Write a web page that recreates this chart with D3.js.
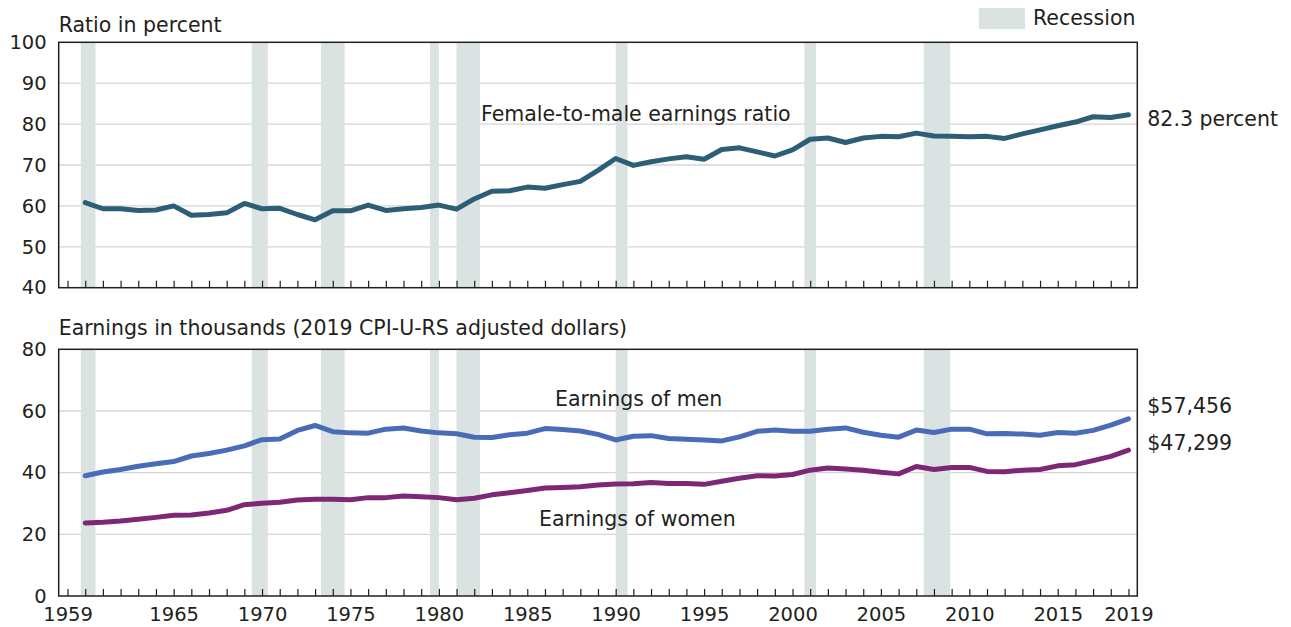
<!DOCTYPE html>
<html>
<head>
<meta charset="utf-8">
<script src="https://cdn.jsdelivr.net/npm/d3@7"></script>
<style>
	body { margin: 0; background: #fff; }
	svg { display: block; font-family: "DejaVu Sans", sans-serif; }
	text { fill: #231f20; }
</style>
</head>
<body>
<svg id="chart" width="1291" height="627"></svg>
<script>
// Data, 1960-2019
const years = d3.range(1960, 2020);

const ratio = [60.8, 59.3, 59.3, 58.9, 59.0, 60.0, 57.7, 57.9, 58.3, 60.6,
	59.3, 59.4, 57.9, 56.6, 58.8, 58.8, 60.2, 58.9, 59.3, 59.6,
	60.2, 59.2, 61.7, 63.6, 63.7, 64.6, 64.3, 65.2, 66.0, 68.7,
	71.6, 69.9, 70.8, 71.5, 72.0, 71.4, 73.8, 74.2, 73.2, 72.2,
	73.7, 76.3, 76.6, 75.5, 76.6, 77.0, 76.9, 77.8, 77.1, 77.0,
	76.9, 77.0, 76.5, 77.6, 78.6, 79.6, 80.5, 81.8, 81.6, 82.3];

const menEarnings = [39.0, 40.2, 41.0, 42.1, 42.9, 43.6, 45.4, 46.2, 47.3, 48.7,
	50.7, 50.9, 53.7, 55.3, 53.3, 52.9, 52.8, 54.1, 54.5, 53.5,
	52.9, 52.6, 51.5, 51.4, 52.3, 52.8, 54.3, 54.0, 53.5, 52.4,
	50.6, 51.8, 52.0, 51.1, 50.8, 50.6, 50.3, 51.6, 53.4, 53.8,
	53.4, 53.4, 54.1, 54.5, 53.1, 52.1, 51.5, 53.8, 53.0, 54.1,
	54.1, 52.6, 52.7, 52.5, 52.1, 53.0, 52.8, 53.7, 55.4, 57.456];

const womenEarnings = [23.7, 23.9, 24.3, 24.9, 25.5, 26.2, 26.3, 26.9, 27.8, 29.6,
	30.1, 30.4, 31.1, 31.4, 31.4, 31.2, 31.9, 31.9, 32.4, 32.2,
	31.9, 31.2, 31.7, 32.8, 33.5, 34.2, 35.0, 35.2, 35.4, 36.0,
	36.3, 36.4, 36.8, 36.5, 36.5, 36.2, 37.2, 38.2, 39.0, 38.9,
	39.4, 40.8, 41.5, 41.2, 40.8, 40.1, 39.6, 42.0, 41.0, 41.7,
	41.7, 40.4, 40.3, 40.8, 41.0, 42.2, 42.6, 43.9, 45.3, 47.299];

// Recession bands as drawn (start, end in fractional years)
const recessions = [[1959.75, 1960.58], [1969.42, 1970.33], [1973.33, 1974.67], [1979.5, 1980.0],
	[1981.0, 1982.33], [1990.0, 1990.67], [2000.67, 2001.33], [2007.42, 2008.92]];

const ratioTicks = [40, 50, 60, 70, 80, 90, 100];
const earningsTicks = [0, 20, 40, 60, 80];
const yearTicks = d3.range(1959, 2020);
const yearLabels = [1959, 1965, 1970, 1975, 1980, 1985, 1990, 1995, 2000, 2005, 2010, 2015, 2019];

const colors = {
	ratio: "#2c5e77",
	men: "#4a6bb8",
	women: "#7d2875",
	recession: "#dbe3e2",
	grid: "#d6d6d6",
	ink: "#231f20"
};

const svg = d3.select("#chart");

const x = d3.scaleLinear().domain([1958.5, 2019.5]).range([58.7, 1137.3]);
const yRatio = d3.scaleLinear().domain([40, 100]).range([287.7, 42.3]);
const yEarn = d3.scaleLinear().domain([0, 80]).range([596, 349.3]);

function drawPanel(y, ticks, showYears) {
	const g = svg.append("g");
	const [y0, y1] = y.range();

	// gridlines
	g.selectAll(".grid")
		.data(ticks.slice(1, -1))
		.join("line")
		.attr("x1", x.range()[0])
		.attr("x2", x.range()[1])
		.attr("y1", d => y(d))
		.attr("y2", d => y(d))
		.attr("stroke", colors.grid)
		.attr("stroke-width", 1.3);

	// recession shading
	g.selectAll(".rec")
		.data(recessions)
		.join("rect")
		.attr("x", d => x(d[0]))
		.attr("width", d => x(d[1]) - x(d[0]))
		.attr("y", y1)
		.attr("height", y0 - y1)
		.attr("fill", colors.recession);

	// year ticks on the bottom edge
	const xAxis = d3.axisBottom(x)
		.tickValues(yearTicks)
		.tickSize(-7)
		.tickPadding(11)
		.tickFormat(d => showYears && yearLabels.includes(d) ? d : "");
	const ax = g.append("g")
		.attr("transform", `translate(0,${y0})`)
		.call(xAxis);
	ax.select(".domain").remove();
	ax.selectAll("line").attr("stroke", colors.ink).attr("stroke-width", 1.2);
	ax.selectAll("text").attr("font-size", 19.5).attr("font-family", "DejaVu Sans").attr("fill", colors.ink);

	// y labels
	const yAxis = d3.axisLeft(y).tickValues(ticks).tickSize(0).tickPadding(12);
	const ay = g.append("g")
		.attr("transform", `translate(${x.range()[0]},0)`)
		.call(yAxis);
	ay.select(".domain").remove();
	ay.selectAll("text").attr("font-size", 19.5).attr("font-family", "DejaVu Sans").attr("fill", colors.ink);

	// frame
	g.append("rect")
		.attr("x", x.range()[0])
		.attr("y", y1)
		.attr("width", x.range()[1] - x.range()[0])
		.attr("height", y0 - y1)
		.attr("fill", "none")
		.attr("stroke", colors.ink)
		.attr("stroke-width", 1.5);

	return g;
}

function drawLine(g, y, values, color) {
	const line = d3.line()
		.x((d, i) => x(years[i]))
		.y(d => y(d));
	g.append("path")
		.datum(values)
		.attr("d", line)
		.attr("fill", "none")
		.attr("stroke", color)
		.attr("stroke-width", 5)
		.attr("stroke-linejoin", "round")
		.attr("stroke-linecap", "round");
}

const ratioPanel = drawPanel(yRatio, ratioTicks, false);
drawLine(ratioPanel, yRatio, ratio, colors.ratio);

const earnPanel = drawPanel(yEarn, earningsTicks, true);
drawLine(earnPanel, yEarn, menEarnings, colors.men);
drawLine(earnPanel, yEarn, womenEarnings, colors.women);

// titles and annotations
const labelSize = 20.5;
function label(txt, px, py, anchor) {
	svg.append("text")
		.attr("x", px)
		.attr("y", py)
		.attr("font-size", labelSize)
		.attr("text-anchor", anchor || "start")
		.text(txt);
}

label("Ratio in percent", x.range()[0], 32);
label("Earnings in thousands (2019 CPI-U-RS adjusted dollars)", x.range()[0], 335);
label("Female-to-male earnings ratio", 481, 120.5);
label("Earnings of men", 555, 405.5);
label("Earnings of women", 539, 525.5);

const last = years.length - 1;
label(ratio[last].toFixed(1) + " percent", x.range()[1] + 10, yRatio(ratio[last]) + 11);
label("$" + d3.format(",")(Math.round(menEarnings[last] * 1000)), x.range()[1] + 10, yEarn(menEarnings[last]) - 6);
label("$" + d3.format(",")(Math.round(womenEarnings[last] * 1000)), x.range()[1] + 10, yEarn(womenEarnings[last]));

// legend
svg.append("rect")
	.attr("x", 979)
	.attr("y", 8)
	.attr("width", 46)
	.attr("height", 21)
	.attr("fill", colors.recession);
label("Recession", 1033, 25);
</script>
</body>
</html>
